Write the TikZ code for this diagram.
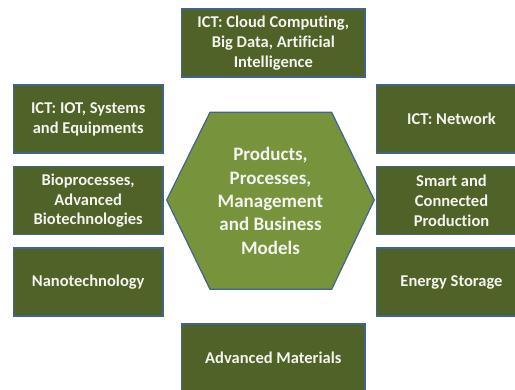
\documentclass[tikz,border=0pt]{standalone}
\usepackage{fontspec}
\setmainfont[Ligatures=NoCommon]{Carlito}
\definecolor{boxfill}{HTML}{4F6228}
\definecolor{hexfill}{HTML}{77933C}
\definecolor{rim}{HTML}{41648F}
\definecolor{label}{HTML}{F4F4F0}
\begin{document}
\begin{tikzpicture}[x=1pt,y=-1pt,
  techbox/.style={draw=rim, line width=1.2pt, fill=boxfill, text=label,
    font=\bfseries\fontsize{16.5}{19.8}\selectfont, align=center,
    minimum width=149.7pt, minimum height=68pt, inner sep=2pt},
  hexlabel/.style={text=label, font=\bfseries\fontsize{19}{23.4}\selectfont, align=center}]
\useasboundingbox (0,0) rectangle (515,390);
\clip (0,0) rectangle (515,390);
% outer technology boxes
\node[techbox, minimum width=183.3pt] (cloud) at (273.3,43) {ICT: Cloud Computing,\\Big Data, Artificial\\Intelligence};
\node[techbox] (iot) at (88.2,119) {ICT: IOT, Systems\\and Equipments};
\node[techbox] (bio) at (88.2,200.8) {Bioprocesses,\\Advanced\\Biotechnologies};
\node[techbox] (nano) at (88.2,282) {Nanotechnology};
\node[techbox] (net) at (451.5,119) {ICT: Network};
\node[techbox] (smart) at (451.5,200.8) {Smart and\\Connected\\Production};
\node[techbox] (energy) at (451.5,282) {Energy Storage};
\node[techbox, minimum width=183.3pt] (mat) at (273.3,358) {Advanced Materials};
% central hexagon
\draw[draw=rim, line width=1.2pt, fill=hexfill, line join=round]
  (166.7,200) -- (210,112.3) -- (331.7,112.3) -- (374.3,200) -- (331.7,289.3) -- (210,289.3) -- cycle;
\node[hexlabel] (core) at (270.5,201) {Products,\\Processes,\\Management\\and Business\\Models};
\end{tikzpicture}
\end{document}
